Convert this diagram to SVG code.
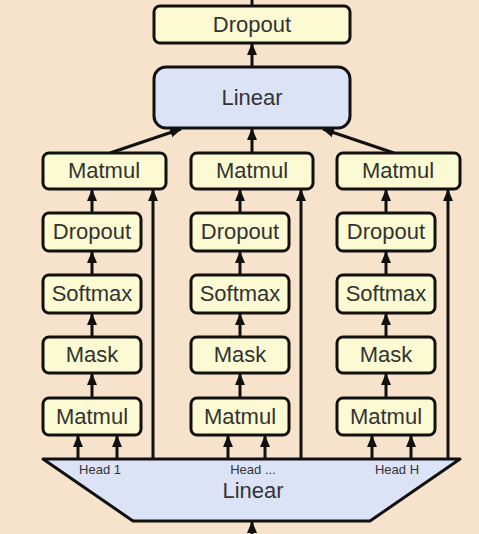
<svg xmlns="http://www.w3.org/2000/svg" width="479" height="534" viewBox="0 0 479 534">
<style>
.y{fill:#FBFAD2;stroke:#111;stroke-width:3}
.b{fill:#DCE3F7;stroke:#111;stroke-width:3}
.t{font-family:"Liberation Sans",Arial,sans-serif;font-size:22px;fill:#333;text-anchor:middle}
.h{font-family:"Liberation Sans",Arial,sans-serif;font-size:13px;fill:#333;text-anchor:middle}
.c{stroke:#111;stroke-width:3;fill:none}
</style>
<defs>
<marker id="a" markerUnits="userSpaceOnUse" markerWidth="12" markerHeight="12" viewBox="0 0 12 12" refX="11" refY="6" orient="auto">
<path d="M0,1 L12,6 L0,11 Z" fill="#111"/>
</marker>
</defs>
<rect width="479" height="534" fill="#F7E3CB"/>
<g id="connectors">
<line class="c" x1="252" y1="0" x2="252" y2="7"/>
<line class="c" x1="252" y1="67" x2="252" y2="44" marker-end="url(#a)"/>
<line class="c" x1="110" y1="153" x2="181" y2="129" marker-end="url(#a)"/>
<line class="c" x1="252" y1="153" x2="252" y2="129" marker-end="url(#a)"/>
<line class="c" x1="394" y1="153" x2="323" y2="129" marker-end="url(#a)"/>
<line class="c" x1="92" y1="213" x2="92" y2="190" marker-end="url(#a)"/>
<line class="c" x1="92" y1="275" x2="92" y2="252" marker-end="url(#a)"/>
<line class="c" x1="92" y1="337" x2="92" y2="314" marker-end="url(#a)"/>
<line class="c" x1="92" y1="398" x2="92" y2="374" marker-end="url(#a)"/>
<line class="c" x1="78" y1="459" x2="78" y2="436" marker-end="url(#a)"/>
<line class="c" x1="117" y1="459" x2="117" y2="436" marker-end="url(#a)"/>
<line class="c" x1="153" y1="459" x2="153" y2="190" marker-end="url(#a)"/>
<line class="c" x1="240" y1="213" x2="240" y2="190" marker-end="url(#a)"/>
<line class="c" x1="240" y1="275" x2="240" y2="252" marker-end="url(#a)"/>
<line class="c" x1="240" y1="337" x2="240" y2="314" marker-end="url(#a)"/>
<line class="c" x1="240" y1="398" x2="240" y2="374" marker-end="url(#a)"/>
<line class="c" x1="228" y1="459" x2="228" y2="436" marker-end="url(#a)"/>
<line class="c" x1="265" y1="459" x2="265" y2="436" marker-end="url(#a)"/>
<line class="c" x1="301" y1="459" x2="301" y2="190" marker-end="url(#a)"/>
<line class="c" x1="386" y1="213" x2="386" y2="190" marker-end="url(#a)"/>
<line class="c" x1="386" y1="275" x2="386" y2="252" marker-end="url(#a)"/>
<line class="c" x1="386" y1="337" x2="386" y2="314" marker-end="url(#a)"/>
<line class="c" x1="386" y1="398" x2="386" y2="374" marker-end="url(#a)"/>
<line class="c" x1="372" y1="459" x2="372" y2="436" marker-end="url(#a)"/>
<line class="c" x1="411" y1="459" x2="411" y2="436" marker-end="url(#a)"/>
<line class="c" x1="448" y1="459" x2="448" y2="190" marker-end="url(#a)"/>
<line class="c" x1="252" y1="534" x2="252" y2="522" marker-end="url(#a)"/>
</g>
<g id="dropout-top"><rect class="y" x="154" y="6" width="196" height="37" rx="6"/><text class="t" x="252" y="32">Dropout</text></g>
<g id="linear-top"><rect class="b" x="154" y="67" width="196" height="61" rx="12"/><text class="t" x="252" y="105">Linear</text></g>
<g id="matmul1-top"><rect class="y" x="43" y="153" width="123" height="36" rx="6"/><text class="t" x="104" y="178">Matmul</text></g>
<g id="dropout1"><rect class="y" x="43" y="213" width="98" height="38" rx="6"/><text class="t" x="92" y="239">Dropout</text></g>
<g id="softmax1"><rect class="y" x="43" y="275" width="98" height="38" rx="6"/><text class="t" x="92" y="301">Softmax</text></g>
<g id="mask1"><rect class="y" x="43" y="337" width="98" height="36" rx="6"/><text class="t" x="92" y="362">Mask</text></g>
<g id="matmul1-bottom"><rect class="y" x="43" y="398" width="98" height="37" rx="6"/><text class="t" x="92" y="424">Matmul</text></g>
<g id="matmul2-top"><rect class="y" x="191" y="153" width="122" height="36" rx="6"/><text class="t" x="252" y="178">Matmul</text></g>
<g id="dropout2"><rect class="y" x="191" y="213" width="98" height="38" rx="6"/><text class="t" x="240" y="239">Dropout</text></g>
<g id="softmax2"><rect class="y" x="191" y="275" width="98" height="38" rx="6"/><text class="t" x="240" y="301">Softmax</text></g>
<g id="mask2"><rect class="y" x="191" y="337" width="98" height="36" rx="6"/><text class="t" x="240" y="362">Mask</text></g>
<g id="matmul2-bottom"><rect class="y" x="191" y="398" width="98" height="37" rx="6"/><text class="t" x="240" y="424">Matmul</text></g>
<g id="matmul3-top"><rect class="y" x="337" y="153" width="123" height="36" rx="6"/><text class="t" x="398" y="178">Matmul</text></g>
<g id="dropout3"><rect class="y" x="337" y="213" width="98" height="38" rx="6"/><text class="t" x="386" y="239">Dropout</text></g>
<g id="softmax3"><rect class="y" x="337" y="275" width="98" height="38" rx="6"/><text class="t" x="386" y="301">Softmax</text></g>
<g id="mask3"><rect class="y" x="337" y="337" width="98" height="36" rx="6"/><text class="t" x="386" y="362">Mask</text></g>
<g id="matmul3-bottom"><rect class="y" x="337" y="398" width="98" height="37" rx="6"/><text class="t" x="386" y="424">Matmul</text></g>
<g id="linear-bottom">
<path class="b" d="M43,459 L460,459 L370,521 L133,521 Z" stroke-linejoin="round"/>
<text class="h" x="100" y="474">Head 1</text>
<text class="h" x="253" y="474">Head ...</text>
<text class="h" x="397" y="474">Head H</text>
<text class="t" x="253" y="498">Linear</text>
</g>
</svg>
